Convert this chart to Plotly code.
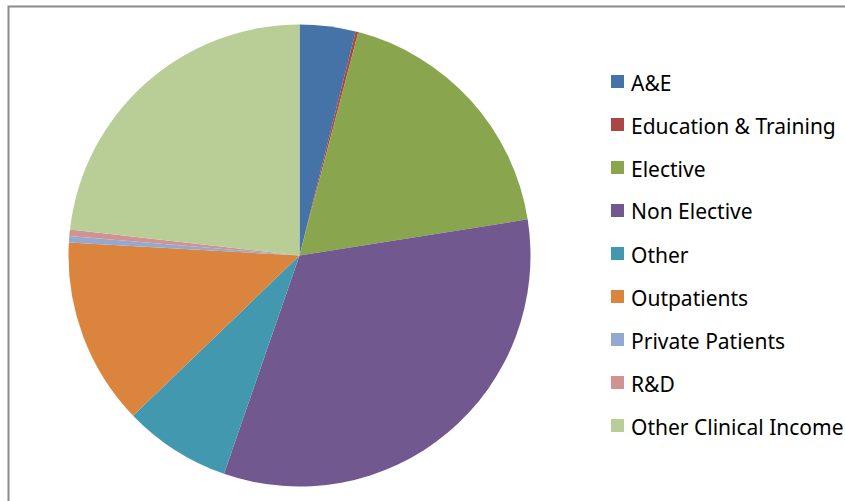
import plotly.graph_objects as go

W, H = 845, 501

categories = ["A&E", "Education & Training", "Elective", "Non Elective", "Other",
              "Outpatients", "Private Patients", "R&D", "Other Clinical Income"]
values = [3.9, 0.2, 18.4, 32.8, 7.5, 13.1, 0.45, 0.45, 23.2]
colors = ["#4572A7", "#AA4643", "#89A54E", "#71588F", "#4198AF",
          "#DB843D", "#93A9CF", "#D19392", "#B9CD96"]


def px(x):
    return x / W


def py(y):
    return 1 - y / H


fig = go.Figure()
fig.add_trace(go.Pie(
    labels=categories, values=values, sort=False, direction="clockwise",
    rotation=0, textinfo="none", marker=dict(colors=colors, line=dict(width=0)),
    domain=dict(x=[px(68.5), px(530.5)], y=[py(486.5), py(24.5)]),
    showlegend=False,
))

shapes = [dict(type="rect", xref="paper", yref="paper",
               x0=px(8.5), x1=px(900), y0=py(560), y1=py(6.5),
               line=dict(color="#8a8a8a", width=2), fillcolor="rgba(0,0,0,0)")]
annotations = []
for i, (cat, col) in enumerate(zip(categories, colors)):
    cy = 81.5 + 43 * i
    shapes.append(dict(type="rect", xref="paper", yref="paper",
                       x0=px(611), x1=px(624), y0=py(cy + 6.5), y1=py(cy - 6.5),
                       line=dict(width=0), fillcolor=col))
    annotations.append(dict(text=cat, xref="paper", yref="paper", x=px(629), y=py(cy + 1),
                            xanchor="left", yanchor="middle", showarrow=False,
                            font=dict(family="Noto Sans", size=21, color="#000000")))

fig.update_layout(width=W, height=H, margin=dict(l=0, r=0, t=0, b=0),
                  paper_bgcolor="white", plot_bgcolor="white",
                  shapes=shapes, annotations=annotations)
fig.write_html("out.html", config={"displayModeBar": False},
               post_script="document.body.style.margin='0';document.body.style.overflow='hidden';")
